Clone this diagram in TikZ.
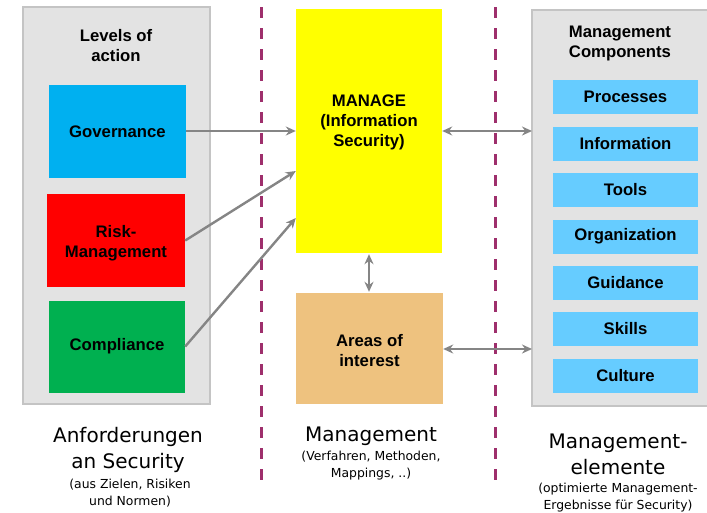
\documentclass[tikz,border=0pt]{standalone}
\usepackage{fontspec}
\setmainfont{Liberation Sans}
\newfontfamily\lblfont{DejaVu Sans}
\usetikzlibrary{arrows.meta}
\definecolor{panelgray}{HTML}{E3E3E3}
\definecolor{panelborder}{HTML}{C4C4C4}
\definecolor{govblue}{HTML}{00B0F0}
\definecolor{riskred}{HTML}{FF0000}
\definecolor{compgreen}{HTML}{00B050}
\definecolor{manyellow}{HTML}{FFFF00}
\definecolor{areatan}{HTML}{EEC27F}
\definecolor{itemblue}{HTML}{66CCFF}
\definecolor{dashpurple}{HTML}{9E2F6C}
\definecolor{arrowgray}{HTML}{858585}
\tikzset{
  panel/.style={fill=panelgray, draw=panelborder, line width=1.2pt},
  boxtext/.style={font=\fontsize{16.7}{20}\selectfont\bfseries, align=center, text=black},
  item/.style={fill=itemblue, draw=none, minimum width=145pt, minimum height=34pt, inner sep=0pt, boxtext},
  sep/.style={draw=dashpurple, line width=3pt, dash pattern=on 11pt off 10pt},
  conn/.style={draw=arrowgray, line width=2.4pt, -{Stealth[length=10pt,width=9pt]}},
  bconn/.style={draw=arrowgray, line width=2.4pt, {Stealth[length=10pt,width=9pt]}-{Stealth[length=10pt,width=9pt]}},
  biglbl/.style={font=\lblfont\fontsize{20}{26}\selectfont, align=center},
  smalllbl/.style={font=\lblfont\fontsize{12.4}{17}\selectfont, align=center}
}
\begin{document}
\begin{tikzpicture}[x=1pt,y=-1pt]
\useasboundingbox (0,0) rectangle (707,512);
% panels
\path[panel] (23,7) rectangle (210,404);
\path[panel] (532,10) rectangle (712,406);
% separators
\coordinate (s1a) at (261,7); \coordinate (s1b) at (261,482);
\coordinate (s2a) at (495,7); \coordinate (s2b) at (495,482);
\draw[sep] (s1a) -- (s1b);
\draw[sep] (s2a) -- (s2b);
% left column
\node[boxtext] (lvl) at (116,45.5) {Levels of\\action};
\node[fill=govblue, minimum width=137pt, minimum height=93pt, inner sep=0pt, boxtext] (gov) at (117.5,131.5) {Governance};
\node[fill=riskred, minimum width=138pt, minimum height=93pt, inner sep=0pt] (risk) at (116,240.5) {};
\node[boxtext] (risktext) at (116,243) {Risk-\\Management};
\node[fill=compgreen, minimum width=136pt, minimum height=92pt, inner sep=0pt, boxtext] (comp) at (117,346.5) {Compliance};
% middle column
\node[fill=manyellow, minimum width=146pt, minimum height=244pt, inner sep=0pt] (man) at (369,131) {};
\node[boxtext] (mantext) at (369,122) {MANAGE\\(Information\\Security)};
\node[fill=areatan, minimum width=147pt, minimum height=111pt, inner sep=0pt] (area) at (369.5,348.5) {};
\node[boxtext] (areatext) at (369.5,351) {Areas of\\interest};
% right column
\node[boxtext] (mc) at (620,43.5) {Management\\Components};
\node[item] (i1) at (625.5,97) {Processes};
\node[item] (i2) at (625.5,143.5) {Information};
\node[item] (i3) at (625.5,189.5) {Tools};
\node[item] (i4) at (625.5,236.5) {Organization};
\node[item] (i5) at (625.5,282.5) {Guidance};
\node[item] (i6) at (625.5,329) {Skills};
\node[item] (i7) at (625.5,375.5) {Culture};
% connectors
\coordinate (rp1) at (532,131);
\coordinate (rp2) at (532,349);
\draw[conn] (gov.east |- 0,131) -- (man.west |- 0,131);
\draw[conn] (risk.east) -- (man.west |- 0,171);
\draw[conn] (comp.east) -- (man.west |- 0,218);
\draw[bconn] ([yshift=-1pt]man.south) -- ([yshift=1pt]man.south |- area.north);
\draw[bconn] (man.east |- 0,131) -- (rp1);
\draw[bconn] (area.east |- 0,349) -- (rp2);
% bottom labels
\node[biglbl] (b1) at (128,450) {Anforderungen\\an Security};
\node[smalllbl] (b1s) at (130,493.5) {(aus Zielen, Risiken\\und Normen)};
\node[biglbl] (b2) at (371,436) {Management};
\node[smalllbl] (b2s) at (371,466) {(Verfahren, Methoden,\\Mappings, ..)};
\node[biglbl] (b3) at (618,454) {Management-\\elemente};
\node[smalllbl] (b3s) at (618,497.5) {(optimierte Management-\\Ergebnisse für Security)};
\end{tikzpicture}
\end{document}
